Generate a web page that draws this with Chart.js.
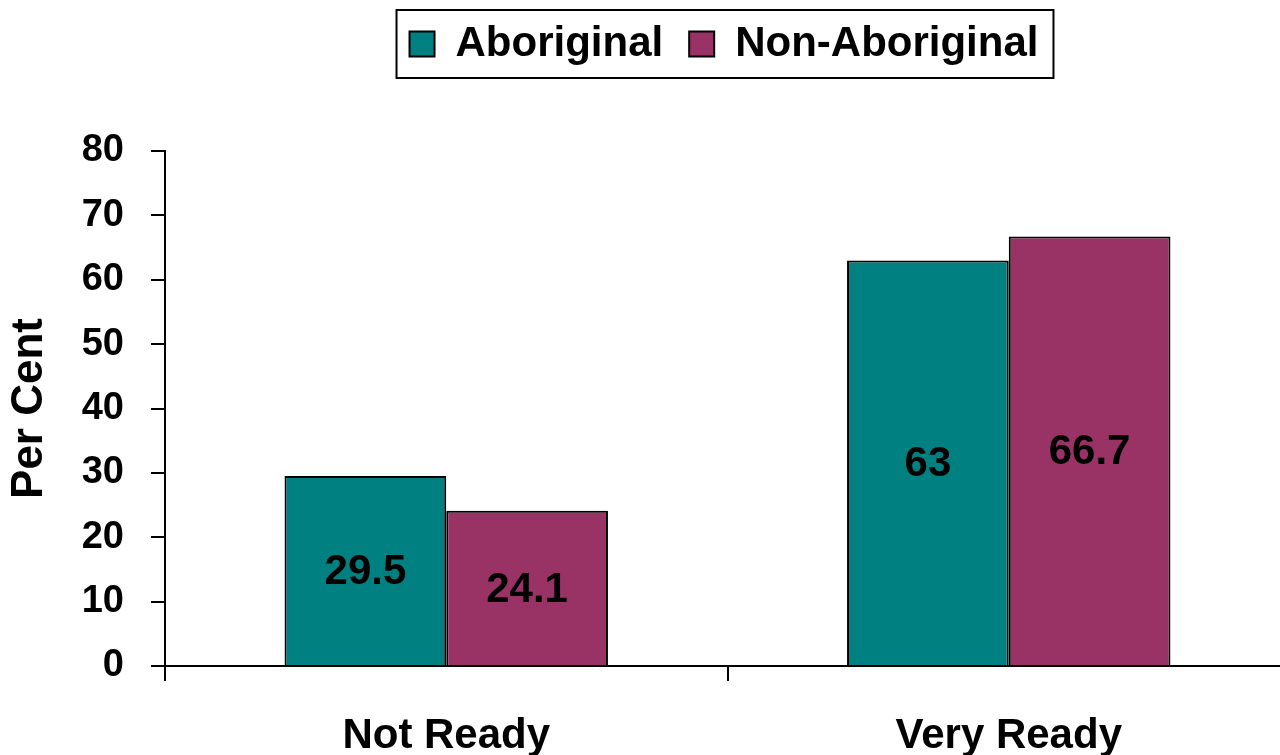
<!DOCTYPE html>
<html>
<head>
<meta charset="utf-8">
<script src="https://cdn.jsdelivr.net/npm/chart.js@4.4.1/dist/chart.umd.min.js"></script>
<style>
    html, body { margin: 0; padding: 0; background: #fff; overflow: hidden; }
    #wrap { width: 1280px; height: 755px; overflow: hidden; }
</style>
</head>
<body>
<div id="wrap"><canvas id="myChart" width="1290" height="790"></canvas></div>
<script>
const categories = ['Not Ready', 'Very Ready']
const seriesNames = ['Aboriginal', 'Non-Aboriginal']
const aboriginal = [29.5, 63]
const nonAboriginal = [24.1, 66.7]
const yTicks = [0, 10, 20, 30, 40, 50, 60, 70, 80]

const FONT = '"Liberation Sans", Arial, sans-serif'

// value written in the middle of each bar
const barLabels = {
    id: 'barLabels',
    afterDatasetsDraw(chart) {
        const ctx = chart.ctx
        ctx.save()
        ctx.font = 'bold 42px ' + FONT
        ctx.fillStyle = '#000'
        ctx.textAlign = 'center'
        ctx.textBaseline = 'middle'
        chart.data.datasets.forEach((ds, i) => {
            chart.getDatasetMeta(i).data.forEach((bar, j) => {
                ctx.fillText(String(ds.data[j]), bar.x, (bar.y + bar.base) / 2 + 2)
            })
        })
        ctx.restore()
    }
}

// move the legend over the plot and put a frame round it
const legendFrame = {
    id: 'legendFrame',
    afterLayout(chart) {
        const lg = chart.legend
        const dx = 724 - (lg.left + lg.right) / 2
        const dy = 36 - (lg.top + lg.bottom) / 2
        lg.left += dx
        lg.right += dx
        lg.top += dy
        lg.bottom += dy
    },
    afterDraw(chart) {
        const boxes = chart.legend.legendHitBoxes
        if (!boxes || !boxes.length) return
        const first = boxes[0]
        const last = boxes[boxes.length - 1]
        const x1 = first.left - 13
        const x2 = last.left + last.width + 15
        const cy = first.top + first.height / 2
        const ctx = chart.ctx
        ctx.save()
        ctx.strokeStyle = '#000'
        ctx.lineWidth = 2
        ctx.strokeRect(x1, cy - 34, x2 - x1, 68)
        ctx.restore()
    }
}

const ctx = document.getElementById('myChart').getContext('2d')

new Chart(ctx, {
    type: 'bar',
    data: {
        labels: categories,
        datasets: [{
            label: seriesNames[0],
            data: aboriginal,
            backgroundColor: '#008080',
            borderColor: '#000',
            borderWidth: 2,
        }, {
            label: seriesNames[1],
            data: nonAboriginal,
            backgroundColor: '#993366',
            borderColor: '#000',
            borderWidth: 2,
        }]
    },
    options: {
        responsive: false,
        animation: false,
        devicePixelRatio: 1,
        layout: {
            padding: { top: 73, left: 0, right: 0, bottom: 0 }
        },
        datasets: {
            bar: {
                categoryPercentage: 0.575,
                barPercentage: 1.0,
            }
        },
        plugins: {
            tooltip: { enabled: false },
            legend: {
                position: 'top',
                labels: {
                    boxWidth: 25,
                    boxHeight: 25,
                    padding: 26,
                    color: '#000',
                    font: { family: FONT, size: 42, weight: 'bold' },
                }
            }
        },
        scales: {
            x: {
                grid: {
                    offset: true,
                    drawOnChartArea: false,
                    tickLength: 15,
                    color: '#000',
                    lineWidth: 2,
                },
                border: { display: true, color: '#000', width: 2 },
                ticks: {
                    padding: 30,
                    color: '#000',
                    font: { family: FONT, size: 42, weight: 'bold' },
                },
                afterFit(scale) {
                    scale.height = 124
                }
            },
            y: {
                min: 0,
                max: 80,
                afterBuildTicks(scale) {
                    scale.ticks = yTicks.map(v => ({ value: v }))
                },
                grid: {
                    drawOnChartArea: false,
                    tickLength: 14,
                    color: '#000',
                    lineWidth: 2,
                },
                border: { display: true, color: '#000', width: 2 },
                ticks: {
                    padding: 27,
                    color: '#000',
                    font: { family: FONT, size: 38, weight: 'bold' },
                },
                title: {
                    display: true,
                    text: 'Per Cent',
                    color: '#000',
                    padding: { top: 3, bottom: 0 },
                    font: { family: FONT, size: 44, weight: 'bold' },
                },
                afterFit(scale) {
                    scale.width = 165
                }
            }
        }
    },
    plugins: [barLabels, legendFrame]
})
</script>
</body>
</html>
